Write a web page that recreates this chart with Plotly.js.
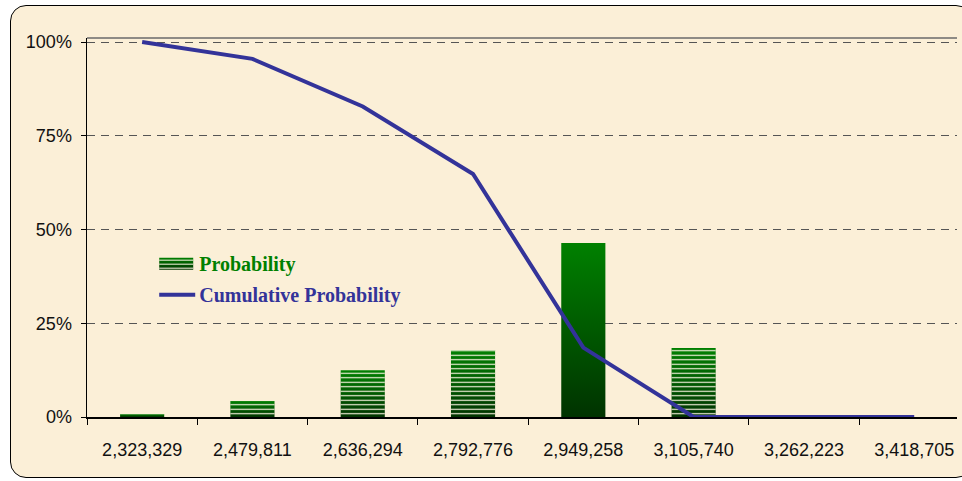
<!DOCTYPE html>
<html>
<head>
<meta charset="utf-8">
<script src="https://cdn.plot.ly/plotly-3.0.1.min.js"></script>
<style>
  html, body { margin: 0; padding: 0; width: 962px; height: 481px; overflow: hidden; background: #ffffff; }
  #frame { position: absolute; left: 10px; top: 5px; width: 960px; height: 471px;
           border: 1.5px solid #000; border-radius: 16px; background: #fbefd7; }
  #chart { position: absolute; left: 0; top: 0; width: 962px; height: 481px; }
</style>
</head>
<body>
<div id="frame"></div>
<div id="chart"></div>
<script>
// ---- data ----
const categories = ["2,323,329", "2,479,811", "2,636,294", "2,792,776",
                    "2,949,258", "3,105,740", "3,262,223", "3,418,705"];
const probability = [0.008, 0.043, 0.125, 0.179, 0.464, 0.184, 0, 0];
const cumulative  = [1.000, 0.955, 0.828, 0.648, 0.185, 0.000, 0.000, 0.000];
const yTickVals = [0, 0.25, 0.5, 0.75, 1];
const yTickText = ["0%", "25%", "50%", "75%", "100%"];
const stripeShapes = ["-", "-", "-", "-", "", "-", "-", "-"];

const green = "#007a00";
const navy = "#333399";

const traces = [
  {
    type: "bar", x: categories, y: probability, name: '<span style="color:#008000">Probability</span>',
    marker: { color: green, line: { width: 0 } }, width: 0.4,
    legendgroup: "a", hoverinfo: "skip"
  },
  {
    type: "bar", x: categories, y: probability, showlegend: false,
    marker: { color: "rgba(0,0,0,0)", line: { width: 0 },
              pattern: { shape: stripeShapes, fgcolor: "#fdf5e4", bgcolor: "rgba(0,0,0,0)",
                         size: 4.5, solidity: 0.25, fillmode: "replace" } },
    width: 0.4, hoverinfo: "skip"
  },
  {
    type: "scatter", mode: "lines", x: categories, y: cumulative,
    name: '<span style="color:#333399">Cumulative Probability</span>',
    line: { color: navy, width: 4 }, legendgroup: "b", hoverinfo: "skip"
  }
];

const layout = {
  width: 962, height: 481,
  margin: { l: 87, r: 5, t: 38, b: 64 },
  paper_bgcolor: "rgba(0,0,0,0)", plot_bgcolor: "rgba(0,0,0,0)",
  barmode: "overlay",
  showlegend: true,
  legend: {
    x: 0.083, y: 0.456, xanchor: "left", yanchor: "top",
    bgcolor: "rgba(0,0,0,0)", traceorder: "grouped", tracegroupgap: 2,
    font: { family: "Liberation Serif, Times New Roman, serif", size: 20, weight: 700, color: "#008000" }
  },
  xaxis: {
    type: "category", range: [-0.5, 7.388],
    tickson: "boundaries", ticks: "outside", ticklen: 6, tickcolor: "#000", tickwidth: 1,
    showline: true, linecolor: "#000", linewidth: 1.5, showgrid: false, zeroline: false,
    tickfont: { family: "Liberation Sans, Arial, sans-serif", size: 18, color: "#111" },
    ticklabelstandoff: 16, fixedrange: true
  },
  yaxis: {
    range: [0, 1.0107], tickvals: yTickVals, ticktext: yTickText,
    ticks: "outside", ticklen: 5, tickcolor: "#000",
    showline: true, linecolor: "#000", linewidth: 1.5,
    showgrid: true, gridcolor: "#555", gridwidth: 1, griddash: "8px,6px",
    zeroline: false,
    tickfont: { family: "Liberation Sans, Arial, sans-serif", size: 18, color: "#111" },
    ticklabelstandoff: 5, fixedrange: true
  },
  shapes: [
    { type: "line", xref: "paper", yref: "paper", x0: 0, x1: 1, y0: 1, y1: 1,
      line: { color: "#6a6a6a", width: 1.5 } }
  ]
};

Plotly.newPlot("chart", traces, layout, { staticPlot: true, displayModeBar: false }).then(function (gd) {
  const svg = gd.querySelector("svg.main-svg");
  const ns = "http://www.w3.org/2000/svg";
  let defs = svg.querySelector("defs");
  if (!defs) { defs = document.createElementNS(ns, "defs"); svg.insertBefore(defs, svg.firstChild); }
  const grad = document.createElementNS(ns, "linearGradient");
  grad.setAttribute("id", "barGrad");
  grad.setAttribute("x1", "0"); grad.setAttribute("y1", "0");
  grad.setAttribute("x2", "0"); grad.setAttribute("y2", "1");
  [["0", "#008000"], ["1", "#003300"]].forEach(function (s) {
    const st = document.createElementNS(ns, "stop");
    st.setAttribute("offset", s[0]); st.setAttribute("stop-color", s[1]);
    grad.appendChild(st);
  });
  defs.appendChild(grad);
  const pat = document.createElementNS(ns, "pattern");
  pat.setAttribute("id", "legStripe");
  pat.setAttribute("patternUnits", "userSpaceOnUse");
  pat.setAttribute("width", "10"); pat.setAttribute("height", "4");
  const pr = document.createElementNS(ns, "rect");
  pr.setAttribute("x", "0"); pr.setAttribute("y", "0");
  pr.setAttribute("width", "10"); pr.setAttribute("height", "1");
  pr.setAttribute("fill", "#fdf5e4");
  pat.appendChild(pr);
  defs.appendChild(pat);

  const barTraces = gd.querySelectorAll(".barlayer .trace");
  if (barTraces.length) {
    barTraces[0].querySelectorAll("path").forEach(function (p) { p.style.fill = "url(#barGrad)"; });
  }
  const legendTraces = gd.querySelectorAll(".legend .traces");
  legendTraces.forEach(function (lt, i) {
    if (i === 0) {
      const p = lt.querySelector(".legendpoints path");
      if (p) {
        p.setAttribute("d", "M14,6H-22V-6H14Z");
        p.style.fill = "url(#barGrad)";
        p.style.stroke = "none";
        const c = p.cloneNode(true);
        c.style.fill = "url(#legStripe)";
        p.parentNode.appendChild(c);
      }
    } else {
      const p = lt.querySelector(".legendlines path");
      if (p) { p.setAttribute("d", "M-4,0h40"); }
    }
  });
});
</script>
</body>
</html>
